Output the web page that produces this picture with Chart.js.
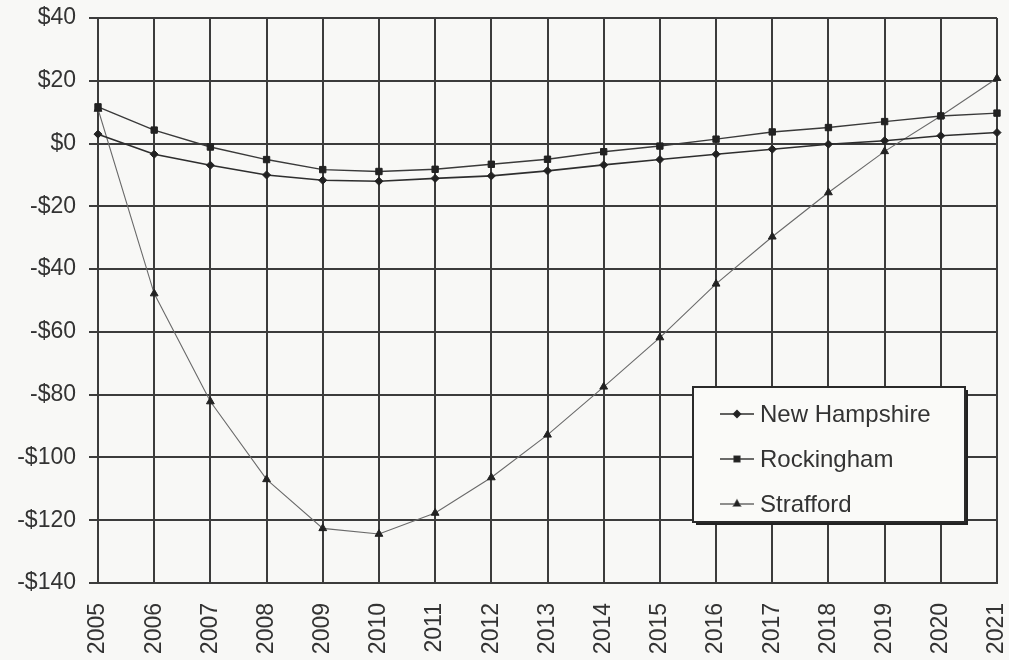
<!DOCTYPE html>
<html>
<head>
<meta charset="utf-8">
<script src="https://cdn.jsdelivr.net/npm/chart.js@4.4.1/dist/chart.umd.min.js"></script>
<style>
  html, body { margin: 0; padding: 0; background: #f8f8f6; }
  #wrap { position: relative; width: 1009px; height: 660px; }
</style>
</head>
<body>
<div id="wrap"><canvas id="chart" width="1009" height="660"></canvas></div>
<script>
// ---- data ----
const years = ['2005','2006','2007','2008','2009','2010','2011','2012','2013',
               '2014','2015','2016','2017','2018','2019','2020','2021'];
const newHampshire = [3, -3.4, -6.9, -10, -11.7, -12, -11.1, -10.3, -8.7,
                      -6.8, -5.1, -3.4, -1.8, -0.2, 0.9, 2.5, 3.5];
const rockingham = [11.7, 4.3, -1.1, -5.1, -8.3, -8.9, -8.2, -6.6, -5.0,
                    -2.6, -0.8, 1.4, 3.7, 5.1, 7.0, 8.8, 9.7];
const strafford = [11, -47.8, -82.2, -107, -122.6, -124.4, -117.7, -106.4, -92.8,
                   -77.5, -61.8, -44.7, -29.7, -15.6, -2.5, 8.8, 20.8];
const yTicks = [40, 20, 0, -20, -40, -60, -80, -100, -120, -140];

const FONT = 'Liberation Sans, Arial, sans-serif';
const INK = '#333333';
const GRID = '#3c3c3c';

const seriesStyle = [
  { label: 'New Hampshire', data: newHampshire, color: '#2e2e2e', width: 1.6, point: 'rectRot', r: 4 },
  { label: 'Rockingham',    data: rockingham,   color: '#3a3a3a', width: 1.4, point: 'rect',    r: 4.5 },
  { label: 'Strafford',     data: strafford,    color: '#6a6a6a', width: 1.1, point: 'triangle', r: 4.5 },
];

// legend drawn inside the plot, like the original
const legendBox = {
  id: 'legendBox',
  afterDatasetsDraw(chart) {
    const ctx = chart.ctx;
    const x = 693, y = 387, w = 272, h = 135;
    ctx.save();
    ctx.fillStyle = '#222';
    ctx.fillRect(x + 3, y + 3, w, h);
    ctx.fillStyle = '#fafaf8';
    ctx.fillRect(x, y, w, h);
    ctx.strokeStyle = '#2a2a2a';
    ctx.lineWidth = 2;
    ctx.strokeRect(x, y, w, h);
    ctx.font = '24px ' + FONT;
    ctx.textBaseline = 'middle';
    seriesStyle.forEach((s, i) => {
      const cy = y + 27 + i * 45;
      ctx.strokeStyle = s.color;
      ctx.lineWidth = 1.5;
      ctx.beginPath();
      ctx.moveTo(x + 27, cy);
      ctx.lineTo(x + 61, cy);
      ctx.stroke();
      Chart.helpers.drawPoint(ctx, { pointStyle: s.point, radius: s.r - 0.5, rotation: 0, borderWidth: 1 }, x + 44, cy);
      ctx.fillStyle = '#222';
      ctx.fill();
      ctx.fillStyle = INK;
      ctx.fillText(s.label, x + 67, cy + 1);
    });
    ctx.restore();
  }
};

const bg = {
  id: 'bg',
  beforeDraw(chart) {
    const ctx = chart.ctx;
    ctx.save();
    ctx.fillStyle = '#f8f8f6';
    ctx.fillRect(0, 0, chart.width, chart.height);
    ctx.restore();
  }
};

new Chart(document.getElementById('chart'), {
  type: 'line',
  data: {
    labels: years,
    datasets: seriesStyle.map(s => ({
      label: s.label,
      data: s.data,
      borderColor: s.color,
      borderWidth: s.width,
      backgroundColor: '#222',
      pointBackgroundColor: '#222',
      pointBorderColor: '#222',
      pointStyle: s.point,
      pointRadius: s.r,
      pointBorderWidth: 1,
      tension: 0,
      fill: false,
    }))
  },
  options: {
    responsive: false,
    animation: false,
    devicePixelRatio: 1,
    layout: { padding: { top: 18, right: 12, left: 0, bottom: 0 } },
    plugins: { legend: { display: false }, tooltip: { enabled: false } },
    scales: {
      x: {
        offset: false,
        grid: { color: GRID, lineWidth: 2, drawTicks: false },
        border: { color: GRID, width: 2 },
        ticks: {
          color: INK, font: { family: FONT, size: 23 },
          minRotation: 90, maxRotation: 90, padding: 20, autoSkip: false,
        },
        afterFit: (s) => { s.height = 77; s.paddingLeft = 0; s.paddingRight = 0; },
      },
      y: {
        min: -140, max: 40,
        afterBuildTicks: (s) => { s.ticks = yTicks.map(v => ({ value: v })); },
        grid: { color: GRID, lineWidth: 2, tickLength: 9 },
        border: { color: GRID, width: 2 },
        ticks: {
          color: INK, font: { family: FONT, size: 23 }, padding: 13,
          callback: (v) => (v < 0 ? '-$' + Math.abs(v) : '$' + v),
        },
        afterFit: (s) => { s.width = 98; s.paddingTop = 0; s.paddingBottom = 0; },
      }
    }
  },
  plugins: [bg, legendBox]
});
</script>
</body>
</html>
